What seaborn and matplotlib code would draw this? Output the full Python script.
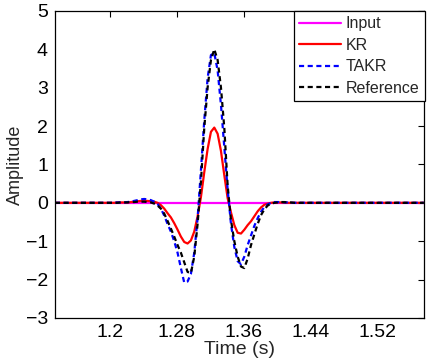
import numpy as np
import pandas as pd
import matplotlib
matplotlib.use("Agg")
import matplotlib.pyplot as plt
import seaborn as sns

# sample times (s): flat edges plus dense samples around the wavelet
time_left_edge = [1.134]
time_dense = list(np.round(np.arange(1.197, 1.4251, 0.004), 3))
time_right_edge = [1.576]
time = time_left_edge + time_dense + time_right_edge

reference = [0.00,
    0.00, 0.00, 0.00, 0.00, 0.01, 0.01, 0.01, 0.02, 0.02, 0.03,
    0.03, 0.03, 0.02, 0.01, -0.02, -0.07, -0.15, -0.28, -0.47, -0.67,
    -0.88, -1.10, -1.30, -1.55, -1.80, -1.83, -1.40, -0.55, 0.55, 1.95,
    3.00, 3.72, 4.00, 3.72, 3.00, 1.95, 0.45, -0.45, -1.00, -1.40,
    -1.66, -1.70, -1.45, -1.10, -0.82, -0.55, -0.32, -0.17, -0.07, -0.02,
    0.00, 0.01, 0.02, 0.02, 0.01, 0.01, 0.00, 0.00,
    0.00]
takr = [0.00,
    0.00, 0.00, 0.01, 0.01, 0.01, 0.01, 0.02, 0.03, 0.05, 0.07,
    0.09, 0.10, 0.09, 0.07, 0.03, -0.03, -0.15, -0.33, -0.55, -0.75,
    -1.00, -1.30, -1.70, -2.08, -2.05, -1.85, -1.30, -0.40, 0.85, 2.15,
    3.25, 3.85, 3.90, 3.45, 2.55, 1.45, 0.35, -0.55, -1.15, -1.52,
    -1.60, -1.40, -1.10, -0.85, -0.60, -0.40, -0.23, -0.11, -0.04, 0.00,
    0.02, 0.02, 0.02, 0.01, 0.01, 0.00, 0.00, 0.00,
    0.00]
kr = [0.00,
    0.00, 0.00, 0.00, 0.01, 0.01, 0.01, 0.01, 0.02, 0.03, 0.04,
    0.05, 0.05, 0.05, 0.04, 0.03, 0.00, -0.06, -0.15, -0.27, -0.38,
    -0.53, -0.70, -0.88, -1.02, -1.06, -0.98, -0.75, -0.35, 0.15, 0.80,
    1.40, 1.85, 1.96, 1.80, 1.35, 0.72, 0.12, -0.25, -0.58, -0.78,
    -0.80, -0.70, -0.58, -0.48, -0.35, -0.22, -0.12, -0.05, -0.02, 0.00,
    0.01, 0.01, 0.01, 0.00, 0.00, 0.00, 0.00, 0.00,
    0.00]
input_trace = [0.0] * len(time)

series_names = ["Input", "KR", "TAKR", "Reference"]
series_values = [input_trace, kr, takr, reference]
x_ticks = [1.2, 1.28, 1.36, 1.44, 1.52]
x_tick_labels = ["1.2", "1.28", "1.36", "1.44", "1.52"]
y_ticks = [-3, -2, -1, 0, 1, 2, 3, 4, 5]

sns.set_style("white")
plt.rcParams["font.family"] = ["Liberation Sans", "DejaVu Sans"]

fig = plt.figure(figsize=(4.32, 3.63), dpi=100)
ax = fig.add_axes([0.127, 0.124, 0.854, 0.846])

colors = {"Input": "#ff00ff", "KR": "#ff0000", "TAKR": "#0000ff", "Reference": "#000000"}
dashed = {"Input": False, "KR": False, "TAKR": True, "Reference": True}

for name, vals in zip(series_names, series_values):
    df = pd.DataFrame({"t": time, "v": vals})
    sns.lineplot(data=df, x="t", y="v", ax=ax, color=colors[name],
                 linewidth=1.6, label=name, estimator=None, sort=True)
    line = ax.lines[-1]
    if dashed[name]:
        line.set_linestyle((0, (2.3, 1.6)))

ax.set_xlim(1.134, 1.576)
ax.set_ylim(-3, 5)
ax.set_xticks(x_ticks)
ax.set_xticklabels(x_tick_labels)
ax.set_yticks(y_ticks)
ax.tick_params(direction="in", length=4, width=0.8, top=True, right=True,
               labelsize=14, colors="black")
ax.tick_params(axis="x", pad=4)
ax.tick_params(axis="y", pad=5)
for s in ax.spines.values():
    s.set_visible(True)
    s.set_color("black")
    s.set_linewidth(0.9)

ax.set_xlabel("Time (s)", fontsize=14, labelpad=0)
ax.set_ylabel("Amplitude", fontsize=13, labelpad=1)

handles = ax.lines[:4]
leg = ax.legend(handles, series_names, loc="upper right",
                bbox_to_anchor=(1.003, 1.0), fontsize=11.5,
                frameon=True, fancybox=False, framealpha=1,
                edgecolor="black", handlelength=2.6, handletextpad=0.3,
                borderpad=0.35, labelspacing=0.4, borderaxespad=0.0)
leg.get_frame().set_linewidth(0.9)

fig.savefig("out.png", dpi=100)
